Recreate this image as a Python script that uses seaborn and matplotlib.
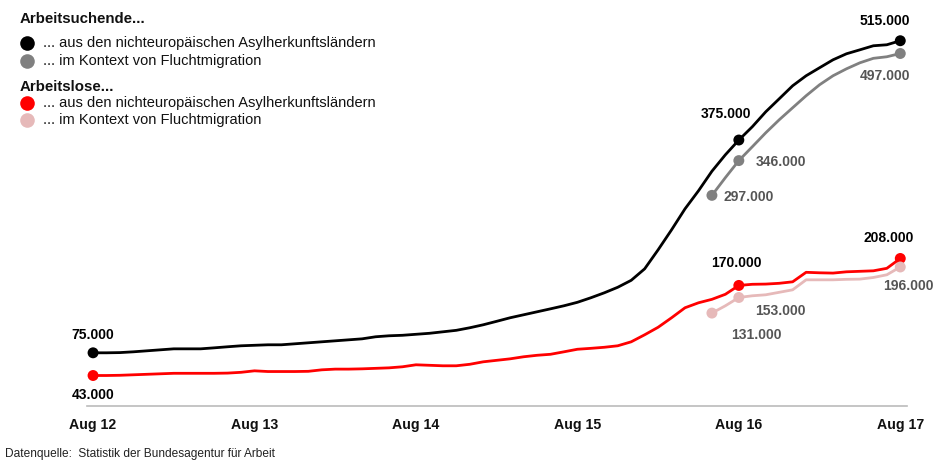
import matplotlib
matplotlib.use("Agg")
import matplotlib.pyplot as plt
from matplotlib.lines import Line2D
import numpy as np
import pandas as pd
import seaborn as sns

# Monthly figures, Aug 2012 .. Aug 2017 (61 months)
months = pd.date_range("2012-08-01", periods=61, freq="MS")
tick_labels = ["Aug 12", "Aug 13", "Aug 14", "Aug 15", "Aug 16", "Aug 17"]

# Arbeitsuchende aus den nichteuropäischen Asylherkunftsländern
suchende_asyl = [
    75000, 75000, 75300, 76400, 77800, 79200, 80600, 80600, 80600, 82000,
    83500, 84900, 85600, 86300, 86300, 87700, 89100, 90500, 91900, 93300,
    94700, 97600, 99000, 99700, 101100, 102500, 104600, 106700, 110300, 114500,
    119400, 124400, 128600, 132800, 137000, 141300, 146200, 152600, 159600, 167400,
    177200, 193400, 220200, 248400, 278000, 303400, 331000, 354200, 375000, 393700,
    414800, 433100, 451500, 465600, 476900, 488100, 496600, 502200, 507900, 509300,
    515000,
]
# Arbeitsuchende im Kontext von Fluchtmigration (ab Jun 16)
suchende_flucht = [
    297000, 322000, 346000, 365500, 385200, 403500, 420500, 437400, 452900,
    465600, 475400, 483900, 490200, 492400, 497000,
]
# Arbeitslose aus den nichteuropäischen Asylherkunftsländern
arbeitslose_asyl = [
    43000, 43000, 43300, 44000, 44700, 45400, 46100, 46100, 46100, 46100,
    46400, 47500, 49600, 48600, 48600, 48600, 48900, 51000, 52000, 52000,
    52400, 53100, 53800, 55300, 58100, 57400, 56700, 56700, 58800, 62300,
    64400, 66500, 69400, 71500, 72900, 76400, 80000, 81300, 82800, 84900,
    90500, 100400, 111000, 124400, 138500, 145500, 150400, 157500, 170000, 171600,
    171900, 173000, 175100, 188500, 187800, 187400, 189200, 189900, 190600, 194100,
    208000,
]
# Arbeitslose im Kontext von Fluchtmigration (ab Jun 16)
arbeitslose_flucht = [
    131000, 141300, 153000, 155400, 156800, 160300, 163800, 177900, 177900,
    177900, 178600, 178900, 181200, 185000, 196000,
]

series_names = ["suchende_asyl", "suchende_flucht", "arbeitslose_asyl", "arbeitslose_flucht"]
series_values = [suchende_asyl, suchende_flucht, arbeitslose_asyl, arbeitslose_flucht]
colors = {
    "suchende_asyl": "#000000",
    "suchende_flucht": "#808080",
    "arbeitslose_asyl": "#ff0000",
    "arbeitslose_flucht": "#e6b9b9",
}
label_colors = {
    "suchende_asyl": "#000000",
    "suchende_flucht": "#555555",
    "arbeitslose_asyl": "#000000",
    "arbeitslose_flucht": "#555555",
}

frames = []
for name, vals in zip(series_names, series_values):
    idx = np.arange(61 - len(vals), 61)
    frames.append(pd.DataFrame({"m": idx, "value": vals, "series": name}))
df = pd.concat(frames, ignore_index=True)

sns.set_theme(style="white")
plt.rcParams["font.family"] = ["Liberation Sans", "DejaVu Sans"]

fig = plt.figure(figsize=(9.34, 4.61), dpi=100)
W, H = 934, 461
ax = fig.add_axes([87 / W, (H - 406) / H, (907 - 87) / W, (406 - 23) / H])

# draw the background lines first so the dark ones sit on top
order = ["suchende_flucht", "arbeitslose_flucht", "suchende_asyl", "arbeitslose_asyl"]
for name in order:
    sub = df[df["series"] == name]
    sns.lineplot(data=sub, x="m", y="value", color=colors[name], lw=2.0,
                 ax=ax, legend=False, zorder=3)

# highlighted months with dots and value labels
def fmt(v):
    return f"{v:,}".replace(",", ".")

highlights = [
    # series, month index, label offset (points), ha
    ("suchende_asyl", 0, (0, 13), "center"),
    ("suchende_asyl", 48, (-9, 19), "center"),
    ("suchende_asyl", 60, (-11, 14), "center"),
    ("suchende_flucht", 46, (8, -1), "left"),
    ("suchende_flucht", 48, (12, -1), "left"),
    ("suchende_flucht", 60, (-11, -16), "center"),
    ("arbeitslose_asyl", 0, (0, -14), "center"),
    ("arbeitslose_asyl", 48, (-2, 16), "center"),
    ("arbeitslose_asyl", 60, (-8, 15), "center"),
    ("arbeitslose_flucht", 46, (32, -16), "center"),
    ("arbeitslose_flucht", 48, (30, -10), "center"),
    ("arbeitslose_flucht", 60, (6, -14), "center"),
]
for name, m, off, ha in highlights:
    sub = df[(df["series"] == name) & (df["m"] == m)]
    sns.scatterplot(data=sub, x="m", y="value", color=colors[name], s=62,
                    edgecolor="none", ax=ax, legend=False, zorder=4)
    v = int(sub["value"].iloc[0])
    ax.annotate(fmt(v), (m, v), xytext=off, textcoords="offset points",
                ha=ha, va="center", fontsize=10, fontweight="bold",
                color=label_colors[name], zorder=5)

ax.set_xlim(-0.45, 60.5)
ax.set_ylim(0, 540000)
ax.set_xticks([0, 12, 24, 36, 48, 60])
ax.set_xticklabels(tick_labels, fontweight="bold", fontsize=10.2, color="#111111")
ax.set_yticks([])
ax.set_xlabel("")
ax.set_ylabel("")
ax.tick_params(axis="x", length=0, pad=8.5)
for side in ["top", "right", "left"]:
    ax.spines[side].set_visible(False)
ax.spines["bottom"].set_color("#bbbbbb")
ax.spines["bottom"].set_linewidth(1.2)
ax.patch.set_alpha(0)

# legend block in the upper left corner
def fy(y):
    return 1 - y / H

fig.text(20 / W, fy(19), "Arbeitsuchende...", fontsize=10.8, fontweight="bold",
         va="center", ha="left", color="#111111")
fig.text(20 / W, fy(87), "Arbeitslose...", fontsize=10.8, fontweight="bold",
         va="center", ha="left", color="#111111")
entries = [
    (43, colors["suchende_asyl"], "... aus den nichteuropäischen Asylherkunftsländern"),
    (61, colors["suchende_flucht"], "... im Kontext von Fluchtmigration"),
    (103, colors["arbeitslose_asyl"], "... aus den nichteuropäischen Asylherkunftsländern"),
    (120, colors["arbeitslose_flucht"], "... im Kontext von Fluchtmigration"),
]
for y, c, txt in entries:
    fig.add_artist(Line2D([27 / W], [fy(y)], marker="o", markersize=10.5,
                          color=c, markeredgewidth=0, linestyle="none",
                          transform=fig.transFigure))
    fig.text(43 / W, fy(y), txt, fontsize=10.5, va="center", ha="left",
             color="#111111")

fig.text(5 / W, fy(454), "Datenquelle:  Statistik der Bundesagentur für Arbeit",
         fontsize=8.6, va="center", ha="left", color="#222222")

fig.savefig("out.png", dpi=100, facecolor="white")
